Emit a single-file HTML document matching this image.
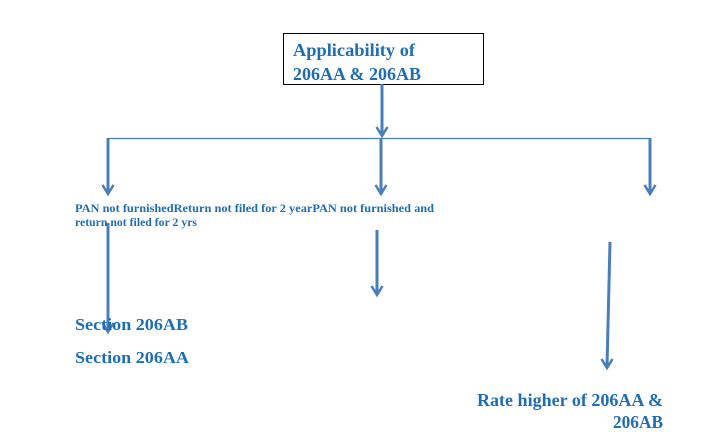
<!DOCTYPE html>
<html><head><style>
html,body{margin:0;padding:0;background:#fff;width:726px;height:446px;overflow:hidden}
svg{display:block}
text{font-family:"Liberation Serif",serif;font-weight:bold;fill:#1f6db4}
</style></head><body>
<svg width="726" height="446" viewBox="0 0 726 446">
<rect x="283.5" y="33.5" width="200" height="51" fill="#fff" stroke="#000" stroke-width="1"/>
<text x="293" y="56" font-size="18" textLength="122" lengthAdjust="spacingAndGlyphs">Applicability of</text>
<text x="293" y="80" font-size="18" textLength="128" lengthAdjust="spacingAndGlyphs">206AA &amp; 206AB</text>
<g stroke="#4a7ebb" stroke-width="3" fill="none">
<line x1="382" y1="84" x2="382" y2="135"/>
<line x1="108" y1="138" x2="108" y2="193"/>
<line x1="381" y1="138" x2="381" y2="193"/>
<line x1="650" y1="138" x2="650" y2="193"/>
<line x1="108" y1="223" x2="108" y2="331"/>
<line x1="377" y1="230" x2="377" y2="294"/>
<line x1="610" y1="242" x2="607" y2="367"/>
</g>
<g stroke="#4a7ebb" stroke-width="2.5" fill="none" stroke-linejoin="miter">
<path d="M376.5 127 L382 136 L387.5 127"/>
<path d="M102.5 185 L108 194 L113.5 185"/>
<path d="M375.5 185 L381 194 L386.5 185"/>
<path d="M644.5 185 L650 194 L655.5 185"/>
<path d="M102.5 323 L108 332 L113.5 323"/>
<path d="M371.5 286 L377 295 L382.5 286"/>
<path d="M601.5 359 L607 368 L612.5 359"/>
</g>
<line x1="108" y1="138.5" x2="651" y2="138.5" stroke="#4a7ebb" stroke-width="1.2"/>
<text x="75" y="212" font-size="11.5" textLength="359" lengthAdjust="spacingAndGlyphs">PAN not furnishedReturn not filed for 2 yearPAN not furnished and</text>
<text x="75" y="226" font-size="11.5" textLength="122" lengthAdjust="spacingAndGlyphs">return not filed for 2 yrs</text>
<text x="75" y="330" font-size="17" textLength="113" lengthAdjust="spacingAndGlyphs">Section 206AB</text>
<text x="75" y="363" font-size="17" textLength="114" lengthAdjust="spacingAndGlyphs">Section 206AA</text>
<text x="477" y="406" font-size="18" textLength="186" lengthAdjust="spacingAndGlyphs">Rate higher of 206AA &amp;</text>
<text x="613" y="428" font-size="18" textLength="50" lengthAdjust="spacingAndGlyphs">206AB</text>
</svg>
</body></html>
